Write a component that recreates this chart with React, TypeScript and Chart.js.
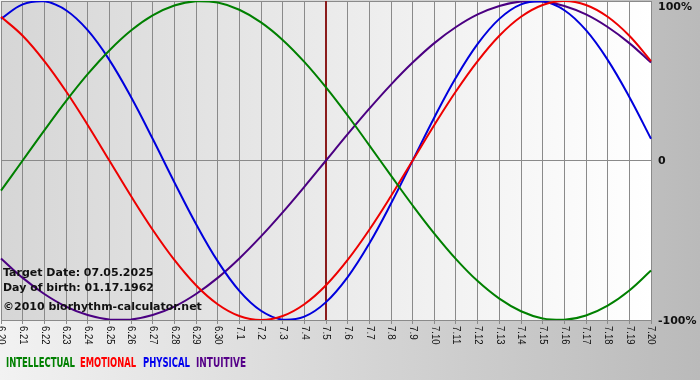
import React, { useEffect, useRef } from "react";
import { Chart, registerables } from "chart.js";

Chart.register(...registerables);

const dayLabels = [
  "6.20", "6.21", "6.22", "6.23", "6.24", "6.25", "6.26", "6.27", "6.28", "6.29", "6.30",
  "7.1", "7.2", "7.3", "7.4", "7.5", "7.6", "7.7", "7.8", "7.9", "7.10",
  "7.11", "7.12", "7.13", "7.14", "7.15", "7.16", "7.17", "7.18", "7.19", "7.20",
];

const intellectual = [
  -18.9, 0, 18.9, 37.2, 54.1, 69.0, 81.5, 91.0, 97.2, 99.9, 99.0,
  94.5, 86.6, 75.6, 61.8, 45.8, 28.2, 9.5, -9.5, -28.2, -45.8,
  -61.8, -75.6, -86.6, -94.5, -99.0, -99.9, -97.2, -91.0, -81.5, -69.0,
];
const emotional = [
  90.1, 78.2, 62.3, 43.4, 22.3, 0, -22.3, -43.4, -62.3, -78.2, -90.1,
  -97.5, -100, -97.5, -90.1, -78.2, -62.3, -43.4, -22.3, 0, 22.3,
  43.4, 62.3, 78.2, 90.1, 97.5, 100, 97.5, 90.1, 78.2, 62.3,
];
const physical = [
  88.8, 97.9, 99.8, 94.2, 81.7, 63.1, 39.8, 13.6, -13.6, -39.8, -63.1,
  -81.7, -94.2, -99.8, -97.9, -88.8, -73.1, -52.0, -27.0, 0, 27.0,
  52.0, 73.1, 88.8, 97.9, 99.8, 94.2, 81.7, 63.1, 39.8, 13.6,
];
const intuitive = [
  -61.4, -73.6, -83.7, -91.6, -96.9, -99.7, -99.7, -96.9, -91.6, -83.7, -73.6,
  -61.4, -47.6, -32.5, -16.5, 0, 16.5, 32.5, 47.6, 61.4, 73.6,
  83.7, 91.6, 96.9, 99.7, 99.7, 96.9, 91.6, 83.7, 73.6, 61.4,
];

const seriesNames = ["INTELLECTUAL", "EMOTIONAL", "PHYSICAL", "INTUITIVE"];
const seriesColors = ["#008000", "#ee0000", "#0000dd", "#4b0082"];
const legendColors = ["#008000", "#ff0000", "#0000ee", "#550088"];
const yTickValues = [100, 0, -100];
const yTickTexts = ["100%", "0", "-100%"];
const targetLabel = "7.5";
const infoLines = [
  "Target Date: 07.05.2025",
  "Day of birth: 01.17.1962",
  "\u00A92010 biorhythm-calculator.net",
];

const legendX = [6, 80, 143, 196];
const legendW = [69, 56, 47, 50];
const infoBaselines = [276, 291, 310];
const infoWidths = [151, 151, 200];

const decorPlugin = {
  id: "decor",
  beforeDraw(chart: any) {
    const { ctx, chartArea } = chart;
    const g = ctx.createLinearGradient(chartArea.left, 0, chartArea.right, 0);
    g.addColorStop(0, "#d6d6d6");
    g.addColorStop(1, "#ffffff");
    ctx.save();
    ctx.fillStyle = g;
    ctx.fillRect(chartArea.left, chartArea.top, chartArea.right - chartArea.left, chartArea.bottom - chartArea.top);
    ctx.restore();
  },
  beforeDatasetsDraw(chart: any) {
    const { ctx, chartArea } = chart;
    const xs = chart.scales.x;
    const idx = dayLabels.indexOf(targetLabel);
    const x = xs.getPixelForValue(idx);
    ctx.save();
    ctx.strokeStyle = "#8b1c1c";
    ctx.lineWidth = 2;
    ctx.beginPath();
    ctx.moveTo(x, chartArea.top);
    ctx.lineTo(x, chartArea.bottom);
    ctx.stroke();
    ctx.restore();
  },
  afterDraw(chart: any) {
    const { ctx, chartArea } = chart;
    const xs = chart.scales.x;
    const ys = chart.scales.y;
    ctx.save();
    // x tick labels rotated clockwise
    ctx.fillStyle = "#111";
    ctx.font = '10px "Liberation Sans", Arial, sans-serif';
    ctx.textAlign = "left";
    ctx.textBaseline = "middle";
    dayLabels.forEach((lab, i) => {
      const x = xs.getPixelForTick(i);
      ctx.save();
      ctx.translate(x, chartArea.bottom + 6);
      ctx.rotate(Math.PI / 2);
      ctx.fillText(lab, 0, 0, lab.length * 4.6);
      ctx.restore();
    });
    // right y labels
    ctx.fillStyle = "#111";
    ctx.font = 'bold 11px "DejaVu Sans", Verdana, sans-serif';
    ctx.textBaseline = "middle";
    yTickValues.forEach((v, i) => {
      let y = ys.getPixelForValue(v) + 1;
      if (y < 7) y = 7;
      ctx.fillText(yTickTexts[i], chartArea.right + 7, y);
    });
    // info text
    ctx.textBaseline = "alphabetic";
    ctx.fillStyle = "#111";
    infoLines.forEach((t, i) => {
      ctx.fillText(t, 3, infoBaselines[i], infoWidths[i]);
    });
    // legend
    ctx.font = 'bold 14px "DejaVu Sans Condensed", "Liberation Sans Narrow", "DejaVu Sans", sans-serif';
    seriesNames.forEach((n, i) => {
      ctx.fillStyle = legendColors[i];
      ctx.fillText(n, legendX[i], 367, legendW[i]);
    });
    ctx.restore();
  },
};

export default function App() {
  const ref = useRef<HTMLCanvasElement | null>(null);
  useEffect(() => {
    if (!ref.current) return;
    const data = [intellectual, emotional, physical, intuitive];
    const chart = new Chart(ref.current, {
      type: "line",
      data: {
        labels: dayLabels,
        datasets: seriesNames.map((n, i) => ({
          label: n,
          data: data[i],
          borderColor: seriesColors[i],
          backgroundColor: seriesColors[i],
          borderWidth: 2,
          pointRadius: 0,
          tension: 0.4,
          fill: false,
        })),
      },
      options: {
        animation: false,
        responsive: false,
        devicePixelRatio: 1,
        layout: { padding: { left: 1, top: 1, right: 49, bottom: 56 } },
        plugins: { legend: { display: false }, tooltip: { enabled: false } },
        scales: {
          x: {
            type: "category",
            offset: false,
            grid: { color: "#8a8a8a", lineWidth: 1, drawTicks: true, tickLength: 4 },
            border: { display: true, color: "#8a8a8a" },
            ticks: { display: false, autoSkip: false },
          },
          y: {
            min: -100,
            max: 100,
            grid: { color: "#8a8a8a", lineWidth: 1, drawTicks: false },
            border: { display: true, color: "#8a8a8a" },
            ticks: { display: false, stepSize: 100 },
          },
        },
      },
      plugins: [decorPlugin],
    });
    return () => chart.destroy();
  }, []);
  return (
    <div
      style={{
        position: "absolute",
        left: 0,
        top: 0,
        width: 700,
        height: 380,
        background: "linear-gradient(to right, #f2f2f2, #bababa)",
      }}
    >
      <canvas ref={ref} width={700} height={380} style={{ display: "block" }} />
    </div>
  );
}
